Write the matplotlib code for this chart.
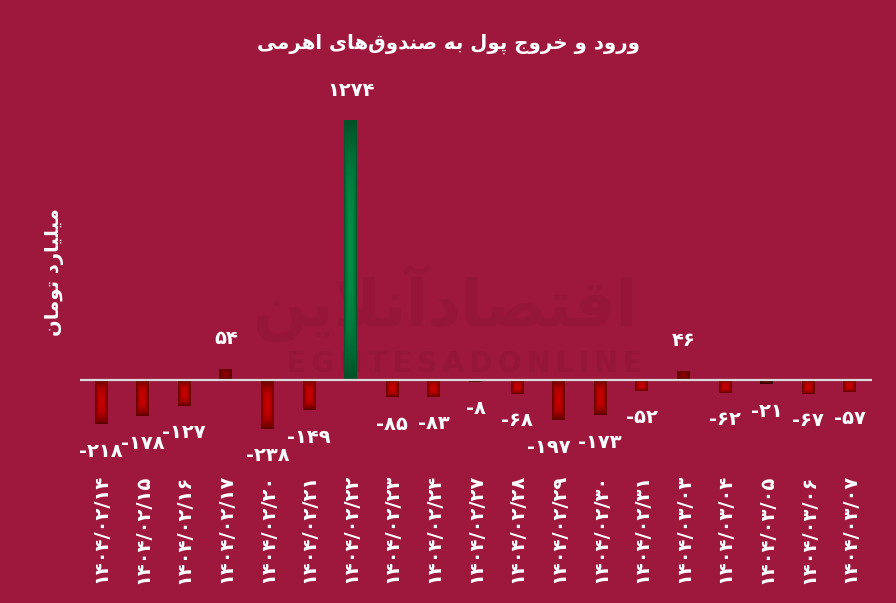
import numpy as np
import matplotlib.pyplot as plt
from matplotlib.colors import to_rgb


# Data
# ----
dates = [
    "۱۴۰۴/۰۲/۱۴", "۱۴۰۴/۰۲/۱۵", "۱۴۰۴/۰۲/۱۶", "۱۴۰۴/۰۲/۱۷", "۱۴۰۴/۰۲/۲۰",
    "۱۴۰۴/۰۲/۲۱", "۱۴۰۴/۰۲/۲۲", "۱۴۰۴/۰۲/۲۳", "۱۴۰۴/۰۲/۲۴", "۱۴۰۴/۰۲/۲۷",
    "۱۴۰۴/۰۲/۲۸", "۱۴۰۴/۰۲/۲۹", "۱۴۰۴/۰۲/۳۰", "۱۴۰۴/۰۲/۳۱", "۱۴۰۴/۰۳/۰۳",
    "۱۴۰۴/۰۳/۰۴", "۱۴۰۴/۰۳/۰۵", "۱۴۰۴/۰۳/۰۶", "۱۴۰۴/۰۳/۰۷",
]
values = [-218, -178, -127, 54, -238, -149, 1274, -85, -83, -8,
          -68, -197, -173, -52, 46, -62, -21, -67, -57]

title = "ورود و خروج پول به صندوق‌های اهرمی"
ylabel = "میلیارد تومان"
watermark_fa = "اقتصادآنلاین"
watermark_en = "EGHTESADONLINE"


# Arabic shaping (matplotlib has no complex text layout)
# -------------------------------------------------------
# letter: (isolated, final, initial, medial)
FORMS = {
    "ا": (0xFE8D, 0xFE8E, None, None),
    "آ": (0xFE81, 0xFE82, None, None),
    "ب": (0xFE8F, 0xFE90, 0xFE91, 0xFE92),
    "پ": (0xFB56, 0xFB57, 0xFB58, 0xFB59),
    "ت": (0xFE95, 0xFE96, 0xFE97, 0xFE98),
    "ج": (0xFE9D, 0xFE9E, 0xFE9F, 0xFEA0),
    "خ": (0xFEA5, 0xFEA6, 0xFEA7, 0xFEA8),
    "د": (0xFEA9, 0xFEAA, None, None),
    "ر": (0xFEAD, 0xFEAE, None, None),
    "ص": (0xFEB9, 0xFEBA, 0xFEBB, 0xFEBC),
    "ق": (0xFED5, 0xFED6, 0xFED7, 0xFED8),
    "ل": (0xFEDD, 0xFEDE, 0xFEDF, 0xFEE0),
    "م": (0xFEE1, 0xFEE2, 0xFEE3, 0xFEE4),
    "ن": (0xFEE5, 0xFEE6, 0xFEE7, 0xFEE8),
    "ه": (0xFEE9, 0xFEEA, 0xFEEB, 0xFEEC),
    "و": (0xFEED, 0xFEEE, None, None),
    "ی": (0xFEEF, 0xFEF0, 0xFEF3, 0xFEF4),
}
LAM_ALEF = {"ا": (0xFEFB, 0xFEFC), "آ": (0xFEF5, 0xFEF6)}


def shape(s):
    out = []
    i = 0
    while i < len(s):
        c = s[i]
        if c == "\u200c":
            i += 1
            continue
        if c not in FORMS:
            out.append(c)
            i += 1
            continue
        prev = s[i - 1] if i > 0 else None
        nxt = s[i + 1] if i + 1 < len(s) else None
        join_prev = prev in FORMS and FORMS[prev][2] is not None
        if c == "ل" and nxt in LAM_ALEF:
            out.append(chr(LAM_ALEF[nxt][1 if join_prev else 0]))
            i += 2
            continue
        join_next = nxt in FORMS and FORMS[c][2] is not None
        iso, fin, ini, med = FORMS[c]
        if join_prev and join_next:
            code = med
        elif join_prev:
            code = fin
        elif join_next:
            code = ini
        else:
            code = iso
        out.append(chr(code))
        i += 1
    return "".join(reversed(out))


def fa_num(v):
    return str(v).translate(str.maketrans("0123456789", "۰۱۲۳۴۵۶۷۸۹"))


# Style
# -----
bg = "#9E173C"
wm_color = "#951639"
red_center, red_edge = to_rgb("#C80000"), to_rgb("#5C0000")
green_center, green_edge = to_rgb("#008C46"), to_rgb("#005028")

plt.rcParams["font.family"] = ["DejaVu Sans"]


def path_gradient(c_center, c_edge, n=80):
    g = np.linspace(-1, 1, n)
    X, Y = np.meshgrid(g, g)
    t = np.maximum(np.abs(X), np.abs(Y)) ** 2.2
    c0 = np.array(c_center)
    c1 = np.array(c_edge)
    return c0 * (1 - t[..., None]) + c1 * t[..., None]


if __name__ == "__main__":
    fig = plt.figure(figsize=(8.96, 6.03), dpi=100, facecolor=bg)
    ax = fig.add_axes([80 / 896, (603 - 470) / 603, 792 / 896, 370 / 603])
    ax.set_facecolor("none")

    x = np.arange(len(values))
    xlim = (-0.505, len(values) - 1 + 0.53)
    ylim = (-441, 1372)

    # Watermark
    # ---------
    ax.text(0.461, 0.45, shape(watermark_fa), transform=ax.transAxes,
            ha="center", va="center", fontsize=46, fontweight="bold",
            color=wm_color, zorder=0)
    ax.text(0.486, 0.286, "\u2009".join(watermark_en), transform=ax.transAxes,
            ha="center", va="center", fontsize=20, fontweight="bold",
            color=wm_color, zorder=0)

    # Bars with gradient fill
    # -----------------------
    bars = ax.bar(x, values, width=0.31, color="none", edgecolor="none", zorder=2)
    for b, v in zip(bars, values):
        if v > 100:
            cc, ce = green_center, green_edge
        elif v > 0:
            cc, ce = to_rgb("#8A0000"), to_rgb("#4A0000")
        elif v > -30:
            cc, ce = to_rgb("#5A0000"), to_rgb("#300000")
        else:
            cc, ce = red_center, red_edge
        img = path_gradient(cc, ce)
        x0, y0 = b.get_x(), b.get_y()
        im = ax.imshow(img, extent=(x0, x0 + b.get_width(), y0, y0 + b.get_height()),
                       aspect="auto", origin="lower", zorder=2, interpolation="bilinear")
        im.set_clip_path(b)

    ax.axhline(0, color="#D9D9D9", linewidth=1.6, zorder=3)

    # Data labels
    # -----------
    label_dx = [0] * len(values)
    label_dx[11] = -10
    for xi, v, dx in zip(x, values, label_dx):
        off = 30 if v >= 0 else -27
        ax.annotate(fa_num(v), (xi, v),
                    xytext=(dx, off), textcoords="offset pixels",
                    ha="center", va="center", fontsize=14, fontweight="bold",
                    color="white", zorder=4)

    # Axes config
    # -----------
    ax.set_xlim(*xlim)
    ax.set_ylim(*ylim)
    ax.set_xticks(x)
    ax.set_xticklabels(dates, rotation=90, fontsize=14, fontweight="bold",
                       color="white")
    ax.tick_params(axis="x", length=0, pad=3)
    ax.set_yticks([])
    for s in ax.spines.values():
        s.set_visible(False)

    fig.text(0.5, 1 - 44 / 603, shape(title), ha="center", va="center",
             fontsize=14.2, fontweight="bold", color="white")
    fig.text(55 / 896, 1 - 272 / 603, shape(ylabel), ha="center", va="center",
             rotation=90, fontsize=14, fontweight="bold", color="white")

    fig.savefig("out.png", dpi=100, facecolor=bg)
